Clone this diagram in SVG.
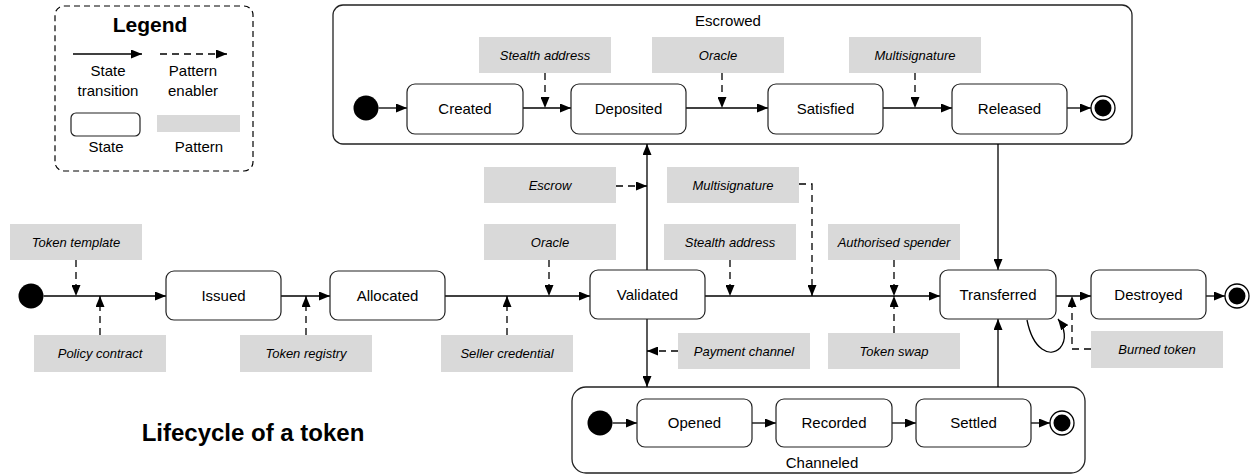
<svg xmlns="http://www.w3.org/2000/svg" width="1257" height="474" viewBox="0 0 1257 474">
<style>
text{font-family:"Liberation Sans",Arial,sans-serif;fill:#000}
.st{fill:#fff;stroke:#222;stroke-width:1.2}
.comp{fill:#fff;stroke:#222;stroke-width:1.3}
.pat{fill:#d9d9d9;stroke:none}
.lbl{font-size:15px;text-anchor:middle}
.it{font-size:13px;font-style:italic;text-anchor:middle}
.tr{fill:none;stroke:#000;stroke-width:1.3;marker-end:url(#ah)}
.en{fill:none;stroke:#000;stroke-width:1.3;stroke-dasharray:7,5;marker-end:url(#ah)}
.init{fill:#000}
</style>
<defs>
<marker id="ah" markerUnits="userSpaceOnUse" markerWidth="12" markerHeight="9" refX="11" refY="4.5" orient="auto">
<path d="M0,0 L11,4.5 L0,9 z" fill="#000"/>
</marker>
</defs>

<g id="legend">
<rect x="55" y="6" width="198" height="165" rx="9" fill="#fff" stroke="#000" stroke-width="1.2" stroke-dasharray="6,4"/>
<text x="150" y="32" font-size="21" font-weight="bold" text-anchor="middle">Legend</text>
<path class="tr" d="M73,54 H142"/>
<path class="en" d="M160,54 H227" stroke-dasharray="6,4"/>
<text class="lbl" x="108" y="76">State</text>
<text class="lbl" x="108" y="96">transition</text>
<text class="lbl" x="193" y="76">Pattern</text>
<text class="lbl" x="193" y="96">enabler</text>
<rect class="st" x="71" y="113" width="69" height="23" rx="5"/>
<rect class="pat" x="157" y="115" width="83" height="17"/>
<text class="lbl" x="106" y="152">State</text>
<text class="lbl" x="199" y="152">Pattern</text>
</g>

<text x="253" y="441" font-size="24" font-weight="bold" text-anchor="middle">Lifecycle of a token</text>

<g id="escrowed">
<rect class="comp" x="333" y="5" width="799" height="139" rx="10"/>
<text class="lbl" x="728" y="26">Escrowed</text>
</g>
<g id="channeled">
<rect class="comp" x="572" y="387" width="513" height="86" rx="14"/>
<text class="lbl" x="822" y="468">Channeled</text>
</g>

<g id="connectors">
<path class="tr" d="M43.5,296 H166"/>
<path class="tr" d="M281,296 H330"/>
<path class="tr" d="M445,296 H590"/>
<path class="tr" d="M705,296 H940"/>
<path class="tr" d="M1056,296 H1091"/>
<path class="tr" d="M1206,296 H1225"/>
<path class="tr" d="M647,270 V144"/>
<path class="tr" d="M647,319 V387"/>
<path class="tr" d="M998,144 V270"/>
<path class="tr" d="M998,387 V319"/>
<path class="tr" d="M1027,320 C1033,350 1050,358 1060,348 C1067,340 1065,328 1058,319"/>
<path class="tr" d="M378.5,108 H407"/>
<path class="tr" d="M523,108 H571"/>
<path class="tr" d="M686,108 H768"/>
<path class="tr" d="M883,108 H952"/>
<path class="tr" d="M1067,108 H1091"/>
<path class="tr" d="M612.5,423 H637"/>
<path class="tr" d="M752,423 H776"/>
<path class="tr" d="M892,423 H916"/>
<path class="tr" d="M1031,423 H1050"/>
<path class="en" d="M76,260 V296"/>
<path class="en" d="M100,335 V296"/>
<path class="en" d="M306,335 V296"/>
<path class="en" d="M549,260 V296"/>
<path class="en" d="M507,335 V296"/>
<path class="en" d="M616,186 H647"/>
<path class="en" d="M730,260 V296"/>
<path class="en" d="M799,184 H812 V296"/>
<path class="en" d="M678,351 H647"/>
<path class="en" d="M894,260 V296"/>
<path class="en" d="M894,333 V296"/>
<path class="en" d="M1091,349 H1072 V296"/>
<path class="en" d="M545,73 V108"/>
<path class="en" d="M722,73 V108"/>
<path class="en" d="M915,73 V108"/>
</g>

<g id="init-main"><circle class="init" cx="31" cy="296" r="12.5"/></g>
<g id="issued"><rect class="st" x="166" y="271" width="115" height="49" rx="8"/><text class="lbl" x="223.5" y="301">Issued</text></g>
<g id="allocated"><rect class="st" x="330" y="271" width="115" height="49" rx="8"/><text class="lbl" x="387.5" y="301">Allocated</text></g>
<g id="validated"><rect class="st" x="590" y="270" width="115" height="49" rx="8"/><text class="lbl" x="647.5" y="300">Validated</text></g>
<g id="transferred"><rect class="st" x="940" y="270" width="116" height="49" rx="8"/><text class="lbl" x="998" y="300">Transferred</text></g>
<g id="destroyed"><rect class="st" x="1091" y="270" width="115" height="49" rx="8"/><text class="lbl" x="1148.5" y="300">Destroyed</text></g>
<g id="final-main"><circle cx="1237" cy="296" r="12" fill="#fff" stroke="#000" stroke-width="1.3"/><circle cx="1237" cy="296" r="8.5" fill="#000"/></g>

<g id="init-escrow"><circle class="init" cx="366" cy="108" r="12.5"/></g>
<g id="created"><rect class="st" x="407" y="84" width="116" height="50" rx="8"/><text class="lbl" x="465" y="114">Created</text></g>
<g id="deposited"><rect class="st" x="571" y="84" width="115" height="50" rx="8"/><text class="lbl" x="628.5" y="114">Deposited</text></g>
<g id="satisfied"><rect class="st" x="768" y="84" width="115" height="50" rx="8"/><text class="lbl" x="825.5" y="114">Satisfied</text></g>
<g id="released"><rect class="st" x="952" y="84" width="115" height="50" rx="8"/><text class="lbl" x="1009.5" y="114">Released</text></g>
<g id="final-escrow"><circle cx="1103" cy="108" r="12" fill="#fff" stroke="#000" stroke-width="1.3"/><circle cx="1103" cy="108" r="8.5" fill="#000"/></g>

<g id="init-channel"><circle class="init" cx="600" cy="423" r="12.5"/></g>
<g id="opened"><rect class="st" x="637" y="399" width="115" height="48" rx="8"/><text class="lbl" x="694.5" y="428">Opened</text></g>
<g id="recorded"><rect class="st" x="776" y="399" width="116" height="48" rx="8"/><text class="lbl" x="834" y="428">Recorded</text></g>
<g id="settled"><rect class="st" x="916" y="399" width="115" height="48" rx="8"/><text class="lbl" x="973.5" y="428">Settled</text></g>
<g id="final-channel"><circle cx="1062" cy="423" r="12" fill="#fff" stroke="#000" stroke-width="1.3"/><circle cx="1062" cy="423" r="8.5" fill="#000"/></g>

<g id="p-token-template"><rect class="pat" x="10" y="224" width="132" height="36"/><text class="it" x="76" y="247">Token template</text></g>
<g id="p-policy-contract"><rect class="pat" x="34" y="335" width="132" height="37"/><text class="it" x="100" y="358">Policy contract</text></g>
<g id="p-token-registry"><rect class="pat" x="240" y="335" width="132" height="37"/><text class="it" x="306" y="358">Token registry</text></g>
<g id="p-oracle-main"><rect class="pat" x="484" y="224" width="132" height="36"/><text class="it" x="550" y="247">Oracle</text></g>
<g id="p-seller-credential"><rect class="pat" x="441" y="335" width="132" height="37"/><text class="it" x="507" y="358">Seller credential</text></g>
<g id="p-escrow"><rect class="pat" x="484" y="167" width="132" height="36"/><text class="it" x="550" y="190">Escrow</text></g>
<g id="p-multisig-main"><rect class="pat" x="667" y="167" width="132" height="36"/><text class="it" x="733" y="190">Multisignature</text></g>
<g id="p-stealth-main"><rect class="pat" x="664" y="224" width="132" height="36"/><text class="it" x="730" y="247">Stealth address</text></g>
<g id="p-payment-channel"><rect class="pat" x="678" y="333" width="132" height="36"/><text class="it" x="744" y="356">Payment channel</text></g>
<g id="p-authorised-spender"><rect class="pat" x="828" y="224" width="132" height="36"/><text class="it" x="894" y="247">Authorised spender</text></g>
<g id="p-token-swap"><rect class="pat" x="828" y="333" width="132" height="36"/><text class="it" x="894" y="356">Token swap</text></g>
<g id="p-burned-token"><rect class="pat" x="1091" y="331" width="132" height="37"/><text class="it" x="1157" y="354">Burned token</text></g>
<g id="p-stealth-esc"><rect class="pat" x="479" y="37" width="132" height="36"/><text class="it" x="545" y="60">Stealth address</text></g>
<g id="p-oracle-esc"><rect class="pat" x="652" y="37" width="132" height="36"/><text class="it" x="718" y="60">Oracle</text></g>
<g id="p-multisig-esc"><rect class="pat" x="849" y="37" width="132" height="36"/><text class="it" x="915" y="60">Multisignature</text></g>
</svg>
